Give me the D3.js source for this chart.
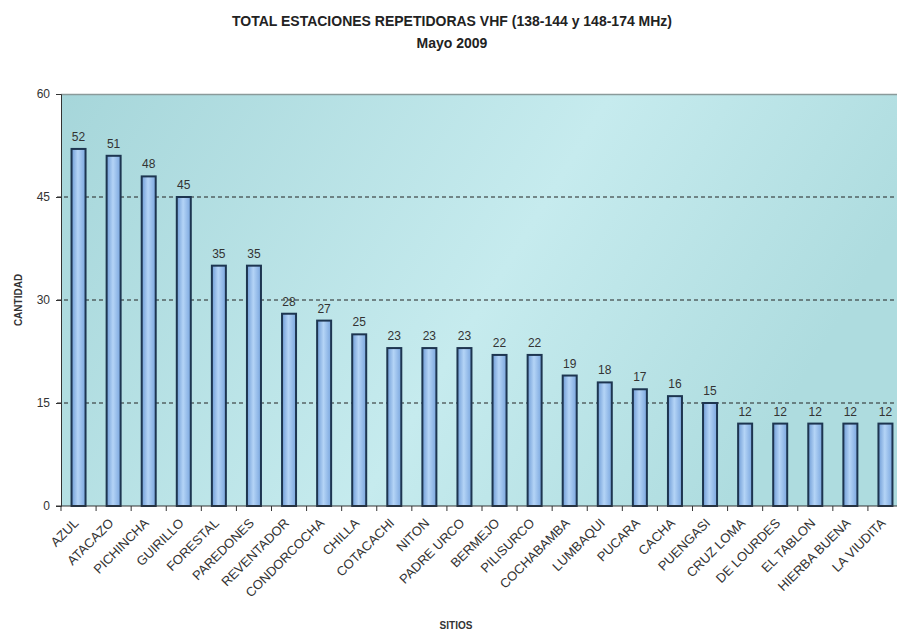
<!DOCTYPE html>
<head>
  <meta charset="utf-8">
  <script src="https://d3js.org/d3.v7.min.js"></script>
  <style>
    body { margin: 0; background: #fff; }
    text { font-family: Arial, "Liberation Sans", sans-serif; }
  </style>
</head>
<body>
<script>
  // data
  var sitios = ['AZUL', 'ATACAZO', 'PICHINCHA', 'GUIRILLO', 'FORESTAL', 'PAREDONES',
    'REVENTADOR', 'CONDORCOCHA', 'CHILLA', 'COTACACHI', 'NITON', 'PADRE URCO',
    'BERMEJO', 'PILISURCO', 'COCHABAMBA', 'LUMBAQUI', 'PUCARA', 'CACHA',
    'PUENGASI', 'CRUZ LOMA', 'DE LOURDES', 'EL TABLON', 'HIERBA BUENA', 'LA VIUDITA'];
  var cantidad = [52, 51, 48, 45, 35, 35, 28, 27, 25, 23, 23, 23, 22, 22, 19, 18, 17, 16, 15, 12, 12, 12, 12, 12];
  var yTicks = [0, 15, 30, 45, 60];

  var outerWidth = 897, outerHeight = 637;
  var margin = { top: 94, left: 61, right: -6, bottom: 131 };
  var width = outerWidth - margin.left - margin.right,
    height = outerHeight - margin.top - margin.bottom;

  var svg = d3.select('body').append('svg')
    .attr('width', outerWidth)
    .attr('height', outerHeight);

  var defs = svg.append('defs');
  var bg = defs.append('linearGradient').attr('id', 'bg')
    .attr('x1', '0%').attr('y1', '0%').attr('x2', '100%').attr('y2', '30%');
  bg.append('stop').attr('offset', '0%').attr('stop-color', '#a6d6da');
  bg.append('stop').attr('offset', '60%').attr('stop-color', '#c6ebee');
  bg.append('stop').attr('offset', '100%').attr('stop-color', '#aedcdf');

  var barGrad = defs.append('linearGradient').attr('id', 'bar')
    .attr('x1', '0%').attr('y1', '0%').attr('x2', '100%').attr('y2', '0%');
  barGrad.append('stop').attr('offset', '0%').attr('stop-color', '#6f9cd6');
  barGrad.append('stop').attr('offset', '45%').attr('stop-color', '#b4d4f6');
  barGrad.append('stop').attr('offset', '100%').attr('stop-color', '#7aa6de');

  // titles
  svg.append('text').attr('x', 452).attr('y', 26).attr('text-anchor', 'middle')
    .style('font-size', '14px').style('font-weight', 'bold').attr('fill', '#222')
    .text('TOTAL ESTACIONES REPETIDORAS VHF (138-144 y 148-174 MHz)');
  svg.append('text').attr('x', 452).attr('y', 48).attr('text-anchor', 'middle')
    .style('font-size', '14px').style('font-weight', 'bold').attr('fill', '#222')
    .text('Mayo 2009');

  var g = svg.append('g')
    .attr('transform', 'translate(' + margin.left + ' ' + margin.top + ')');

  var xScale = d3.scaleBand().domain(sitios).range([0, width]);
  var yScale = d3.scaleLinear().domain([0, 60]).range([height, 0]);

  // plot area
  g.append('rect').attr('x', 0).attr('y', 0)
    .attr('width', width).attr('height', height)
    .attr('fill', 'url(#bg)');
  g.append('line').attr('x1', 0).attr('x2', width).attr('y1', 0.5).attr('y2', 0.5)
    .attr('stroke', '#8a9a9a').attr('stroke-width', 1.5);

  // dashed gridlines
  g.selectAll('.grid').data(yTicks.filter(function(d) { return d > 0 && d < 60; }))
    .enter().append('line')
    .attr('x1', -4).attr('x2', width)
    .attr('y1', function(d) { return yScale(d); })
    .attr('y2', function(d) { return yScale(d); })
    .attr('stroke', '#222').attr('stroke-width', 1)
    .attr('stroke-dasharray', '4,3');

  // bars
  var bw = 14;
  g.selectAll('.bar').data(cantidad).enter().append('rect')
    .attr('x', function(d, i) { return xScale(sitios[i]) + xScale.bandwidth() / 2 - bw / 2; })
    .attr('y', function(d) { return yScale(d); })
    .attr('width', bw)
    .attr('height', function(d) { return height - yScale(d); })
    .attr('fill', 'url(#bar)')
    .attr('stroke', '#1d3550').attr('stroke-width', 2);

  // value labels
  g.selectAll('.val').data(cantidad).enter().append('text')
    .attr('x', function(d, i) { return xScale(sitios[i]) + xScale.bandwidth() / 2; })
    .attr('y', function(d) { return yScale(d) - 8; })
    .attr('text-anchor', 'middle')
    .style('font-size', '12px').attr('fill', '#333')
    .text(function(d) { return d; });

  // y axis
  var yAxis = d3.axisLeft(yScale).tickValues(yTicks).tickSize(5).tickPadding(6);
  var yAx = g.append('g').call(yAxis);
  yAx.select('.domain').attr('stroke', '#333');
  yAx.selectAll('line').attr('stroke', '#333');
  yAx.selectAll('text').style('font-size', '12px').attr('fill', '#333');

  // x axis: ticks at category boundaries
  g.append('line').attr('x1', -5).attr('x2', width).attr('y1', height).attr('y2', height)
    .attr('stroke', '#333');
  g.selectAll('.xt').data(sitios).enter().append('line')
    .attr('x1', function(d) { return xScale(d); })
    .attr('x2', function(d) { return xScale(d); })
    .attr('y1', height).attr('y2', height + 5)
    .attr('stroke', '#333');

  g.selectAll('.xl').data(sitios).enter().append('text')
    .attr('transform', function(d) {
      return 'translate(' + (xScale(d) + xScale.bandwidth() / 2 - 6) + ' ' + (height + 11) + ') rotate(-45)';
    })
    .attr('text-anchor', 'end')
    .attr('dy', '0.75em')
    .style('font-size', '13px').attr('fill', '#333')
    .text(function(d) { return d; });

  // axis labels
  svg.append('text')
    .attr('transform', 'translate(22 ' + (margin.top + height / 2) + ') rotate(-90)')
    .attr('text-anchor', 'middle')
    .style('font-size', '10px').style('font-weight', 'bold').attr('fill', '#333')
    .text('CANTIDAD');
  svg.append('text').attr('x', 456).attr('y', 629).attr('text-anchor', 'middle')
    .style('font-size', '10px').style('font-weight', 'bold').attr('fill', '#333')
    .text('SITIOS');
</script>
</body>
